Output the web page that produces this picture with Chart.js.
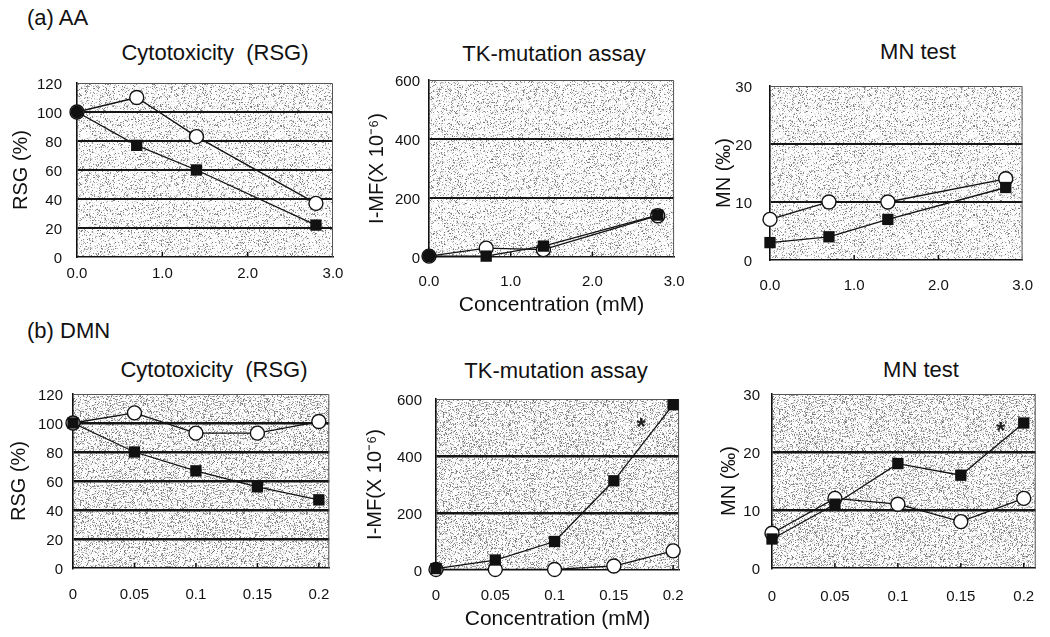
<!DOCTYPE html>
<html><head><meta charset="utf-8">
<script src="https://cdn.jsdelivr.net/npm/chart.js@4/dist/chart.umd.min.js"></script>
<style>
body{margin:0;width:1050px;height:637px;background:#fff;position:relative;overflow:hidden;font-family:"Liberation Sans",Arial,sans-serif;color:#111}
.lbl{position:absolute;white-space:pre;transform:translate(-50%,-50%);line-height:1;font-size:22px}
.tag{position:absolute;white-space:pre;line-height:1;font-size:22px}
canvas{position:absolute}
</style></head><body>
<div class="tag" style="left:27px;top:7px">(a) AA</div>
<div class="tag" style="left:27px;top:320px">(b) DMN</div>
<div class="lbl" style="left:215px;top:53px">Cytotoxicity  (RSG)</div>
<div class="lbl" style="left:554px;top:54px">TK-mutation assay</div>
<div class="lbl" style="left:918px;top:52px">MN test</div>
<div class="lbl" style="left:214px;top:370px">Cytotoxicity  (RSG)</div>
<div class="lbl" style="left:556px;top:371px">TK-mutation assay</div>
<div class="lbl" style="left:921px;top:370px">MN test</div>
<script>
// ---- data ----
const concAA = [0, 0.7, 1.4, 2.8];
const concDMN = [0, 0.05, 0.1, 0.15, 0.2];
const tickAA = [0, 1, 2, 3];
const tickLabelsAA = ['0.0', '1.0', '2.0', '3.0'];
const tickDMN = [0, 0.05, 0.1, 0.15, 0.2];
const tickLabelsDMN = ['0', '0.05', '0.1', '0.15', '0.2'];

const aaRsgOpen = [100, 110, 83, 37];
const aaRsgFilled = [100, 77, 60, 22];
const aaMfOpen = [3, 30, 25, 140];
const aaMfFilled = [3, 3, 37, 142];
const aaMnOpen = [7, 10, 10, 14];
const aaMnFilled = [3, 4, 7, 12.5];

const dmnRsgOpen = [100, 107, 93, 93, 101];
const dmnRsgFilled = [100, 80, 67, 56, 47];
const dmnMfOpen = [2, 2, 2, 14, 67];
const dmnMfFilled = [5, 35, 100, 313, 580];
const dmnMnOpen = [6, 12, 11, 8, 12];
const dmnMnFilled = [5, 11, 18, 16, 25];

// index of the point flagged as significant (*)
const dmnMfSignificant = 4;
const dmnMnSignificant = 4;

// ---- speckle texture for plot background (deterministic) ----
function makePattern(density) {
  const c = document.createElement('canvas');
  c.width = 97; c.height = 89;
  const g = c.getContext('2d');
  const img = g.createImageData(c.width, c.height);
  let s = 12345;
  const rnd = () => { s = (s * 1103515245 + 12345) & 0x7fffffff; return s / 0x7fffffff; };
  for (let i = 0; i < c.width * c.height; i++) {
    const r = rnd();
    let v = 255;
    if (r < density) v = 110 + Math.floor(rnd() * 90);
    else if (r < density + 0.25) v = 225 + Math.floor(rnd() * 25);
    img.data[i*4] = img.data[i*4+1] = img.data[i*4+2] = v;
    img.data[i*4+3] = 255;
  }
  g.putImageData(img, 0, 0);
  return g.createPattern(c, 'repeat');
}
const patA = makePattern(0.16);
const patB = makePattern(0.24);

const decorPlugin = {
  id: 'decor',
  beforeDraw(chart, args, opts) {
    const {ctx, chartArea: a} = chart;
    ctx.save();
    ctx.fillStyle = opts.pattern;
    ctx.fillRect(a.left, a.top, a.right - a.left, a.bottom - a.top);
    ctx.restore();
  },
  beforeDatasetsDraw(chart, args, opts) {
    const {ctx, chartArea: a, scales: {x}} = chart;
    ctx.save();
    ctx.strokeStyle = '#555';
    ctx.lineWidth = 1;
    ctx.beginPath();
    ctx.moveTo(a.left, a.top + 0.5); ctx.lineTo(a.right - 0.5, a.top + 0.5); ctx.lineTo(a.right - 0.5, a.bottom);
    ctx.stroke();
    ctx.strokeStyle = '#111';
    ctx.lineWidth = 1.5;
    x.ticks.forEach(t => {
      const px = x.getPixelForValue(t.value);
      if (px > a.left + 2 && px < a.right - 2) {
        ctx.beginPath(); ctx.moveTo(px, a.bottom); ctx.lineTo(px, a.bottom - 5); ctx.stroke();
      }
    });
    ctx.restore();
  },
  afterDatasetsDraw(chart, args, opts) {
    if (!opts.star) return;
    const pt = chart.getDatasetMeta(0).data[opts.star.index];
    const {ctx} = chart;
    ctx.save();
    ctx.fillStyle = '#222';
    ctx.font = 'bold 24px "Liberation Sans", Arial, sans-serif';
    ctx.textAlign = 'center'; ctx.textBaseline = 'middle';
    ctx.fillText('*', pt.x + opts.star.dx, pt.y + opts.star.dy);
    ctx.restore();
  }
};

const Wy = 78, padT = 14, padR = 18, Hx = 70;

function panel(p) {
  const W = Wy + (p.R - p.L) + padR;
  const H = padT + (p.B - p.T) + Hx;
  const cv = document.createElement('canvas');
  cv.width = W; cv.height = H;
  cv.style.left = (p.L - Wy) + 'px';
  cv.style.top = (p.T - padT) + 'px';
  cv.style.width = W + 'px'; cv.style.height = H + 'px';
  document.body.appendChild(cv);
  const yFont = 20, yLH = yFont * 1.2;
  const xFont = 21, xLH = xFont * 1.2;
  const filledStyle = p.filledStyle || p.xs.map(() => 'rect');
  new Chart(cv, {
    type: 'line',
    data: {
      datasets: [
        {
          label: 'filled',
          data: p.xs.map((x, i) => ({x, y: p.filled[i]})),
          borderColor: '#111', borderWidth: 1.3,
          pointStyle: filledStyle,
          pointRadius: filledStyle.map(s => s === 'circle' ? 6.5 : 8),
          pointBackgroundColor: '#111', pointBorderColor: '#111', pointBorderWidth: 0,
          tension: 0, clip: false
        },
        {
          label: 'open',
          data: p.xs.map((x, i) => ({x, y: p.open[i]})),
          borderColor: '#111', borderWidth: 1.3,
          pointStyle: 'circle', pointRadius: 7,
          pointBackgroundColor: '#fff', pointBorderColor: '#111', pointBorderWidth: 1.4,
          tension: 0, clip: false
        }
      ]
    },
    options: {
      responsive: false, animation: false, devicePixelRatio: 1,
      layout: {padding: {left: 0, right: padR, top: padT, bottom: 0}},
      plugins: {
        legend: {display: false}, tooltip: {enabled: false},
        decor: {pattern: p.pattern, star: p.star}
      },
      scales: {
        x: {
          type: 'linear', min: 0, max: p.xmax,
          afterBuildTicks: s => { s.ticks = p.xt.map(v => ({value: v})); },
          afterFit: s => { s.height = Hx; },
          grid: {display: false, drawTicks: false},
          border: {display: true, color: '#111', width: 1.6},
          ticks: {
            padding: p.xPad, maxRotation: 0, autoSkip: false,
            color: '#111', font: {family: '"Liberation Sans", Arial, sans-serif', size: 15},
            callback: (v, i) => p.xl[i]
          },
          title: p.xtitle ? {
            display: true, text: p.xtitle, color: '#111',
            font: {family: '"Liberation Sans", Arial, sans-serif', size: xFont},
            padding: {top: 0, bottom: (p.B + Hx) - p.xtY - xLH / 2}
          } : {display: false}
        },
        y: {
          min: 0, max: p.ymax,
          afterFit: s => { s.width = Wy; },
          grid: {
            drawTicks: false,
            color: c => (c.tick && (c.tick.value === 0 || c.tick.value === p.ymax)) ? 'rgba(0,0,0,0)' : '#151515',
            lineWidth: p.gridW
          },
          border: {display: true, color: '#111', width: 1.6},
          ticks: {
            stepSize: p.ystep, padding: p.yGap, labelOffset: 2,
            color: '#111', font: {family: '"Liberation Sans", Arial, sans-serif', size: 15}
          },
          title: {
            display: true, text: p.ytitle, color: '#111',
            font: {family: '"Liberation Sans", Arial, sans-serif', size: yFont},
            padding: {top: Wy - p.ytOff - yLH / 2, bottom: 0}
          }
        }
      }
    },
    plugins: [decorPlugin]
  });
}

const rowA = {xs: concAA, xmax: 3, xt: tickAA, xl: tickLabelsAA, pattern: patA, gridW: 2};
const rowB = {xs: concDMN, xt: tickDMN, xl: tickLabelsDMN, pattern: patB, gridW: 2.4};

panel(Object.assign({}, rowA, {L: 77, R: 333, T: 73, B: 257, ymax: 120, ystep: 20,
  open: aaRsgOpen, filled: aaRsgFilled, ytitle: 'RSG (%)', ytOff: 56, yGap: 15, xPad: 7.5,
  filledStyle: ['circle', 'rect', 'rect', 'rect']}));
panel(Object.assign({}, rowA, {L: 429, R: 682, T: 76, B: 257, ymax: 600, ystep: 200,
  open: aaMfOpen, filled: aaMfFilled, ytitle: 'I-MF(X 10⁻⁶)', ytOff: 52, yGap: 9, xPad: 15.5,
  xtitle: 'Concentration (mM)', xtY: 305.5, filledStyle: ['circle', 'rect', 'rect', 'rect']}));
panel(Object.assign({}, rowA, {L: 770, R: 1032, T: 73, B: 260, ymax: 30, ystep: 10,
  open: aaMnOpen, filled: aaMnFilled, ytitle: 'MN (‰)', ytOff: 46, yGap: 18, xPad: 17}));

panel(Object.assign({}, rowB, {L: 73, R: 330, T: 389, B: 568, xmax: 0.2085, ymax: 120, ystep: 20,
  open: dmnRsgOpen, filled: dmnRsgFilled, ytitle: 'RSG (%)', ytOff: 54, yGap: 10, xPad: 18}));
panel(Object.assign({}, rowB, {L: 436, R: 683, T: 390, B: 570, xmax: 0.205, ymax: 600, ystep: 200,
  open: dmnMfOpen, filled: dmnMfFilled, ytitle: 'I-MF(X 10⁻⁶)', ytOff: 61, yGap: 14, xPad: 17,
  xtitle: 'Concentration (mM)', xtY: 619, star: {index: dmnMfSignificant, dx: -32, dy: 24}}));
panel(Object.assign({}, rowB, {L: 772, R: 1037, T: 387, B: 568, xmax: 0.2095, ymax: 30, ystep: 10,
  open: dmnMnOpen, filled: dmnMnFilled, ytitle: 'MN (‰)', ytOff: 43, yGap: 12, xPad: 20,
  star: {index: dmnMnSignificant, dx: -23, dy: 9}}));
</script>
</body></html>
